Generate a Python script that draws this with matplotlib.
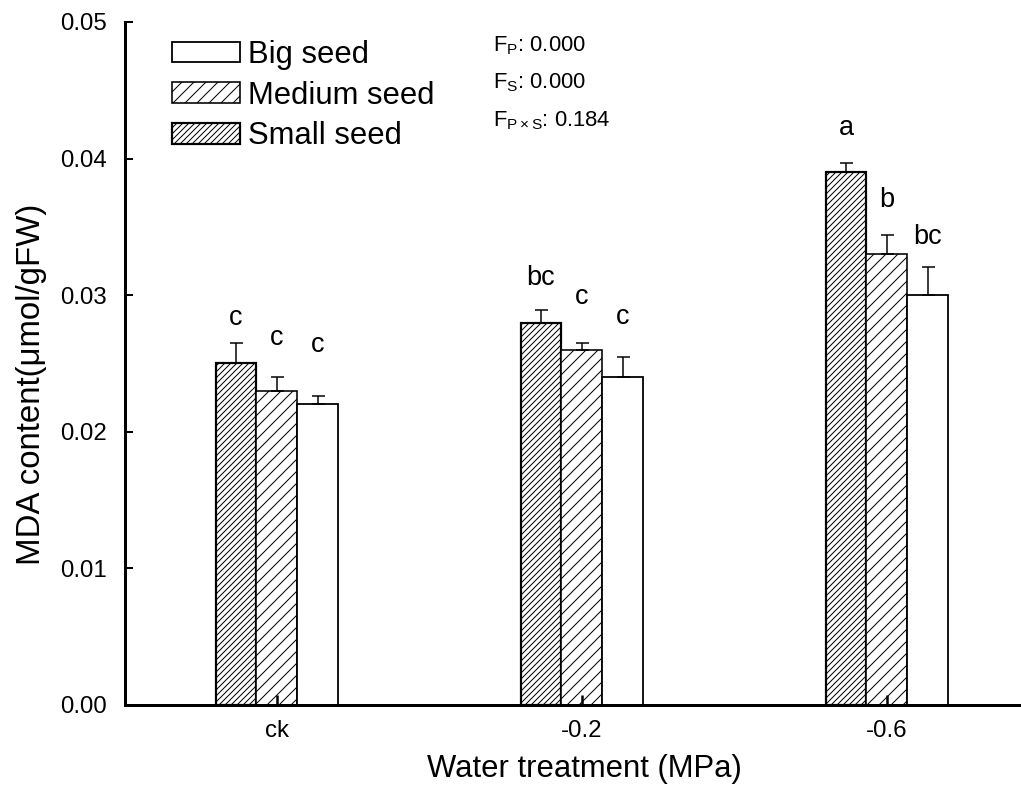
# MDA content under water treatments, by seed size
import numpy as np
import matplotlib.pyplot as plt

plt.rcParams['font.family'] = ['Liberation Sans', 'DejaVu Sans']
plt.rcParams['mathtext.fontset'] = 'custom'
plt.rcParams['mathtext.rm'] = 'Liberation Sans'
plt.rcParams['mathtext.it'] = 'Liberation Sans'
plt.rcParams['hatch.linewidth'] = 1.0

# data
treatments = ['ck', '-0.2', '-0.6']
seeds = ['Small seed', 'Medium seed', 'Big seed']
small_mean = [0.025, 0.028, 0.039]
small_err = [0.0015, 0.0009, 0.00066]
medium_mean = [0.023, 0.026, 0.033]
medium_err = [0.001, 0.0005, 0.0014]
big_mean = [0.022, 0.024, 0.030]
big_err = [0.0006, 0.0015, 0.0021]
small_letters = ['c', 'bc', 'a']
medium_letters = ['c', 'c', 'b']
big_letters = ['c', 'c', 'bc']
# heights (baseline) of the significance letters
small_letter_y = [0.0278, 0.03075, 0.04173]
medium_letter_y = [0.02635, 0.02936, 0.03646]
big_letter_y = [0.02584, 0.02789, 0.03375]

fig = plt.figure(figsize=(1021 / 72, 794 / 72), dpi=72)
ax = fig.add_axes([0.1224, 0.1121, 0.8776, 0.8602])

x = np.arange(len(treatments))
w = 0.134
groups = [
    (small_mean, small_err, small_letters, small_letter_y, '////', 2.2),
    (medium_mean, medium_err, medium_letters, medium_letter_y, '//', 1.6),
    (big_mean, big_err, big_letters, big_letter_y, '', 1.8),
]
handles = []
for i, (m, e, lett, ly, h, lw) in enumerate(groups):
    pos = x + (i - 1) * w
    b = ax.bar(pos, m, w, yerr=[np.zeros(len(e)), e], capsize=6.5,
               color='white', edgecolor='black', hatch=h, linewidth=lw,
               error_kw=dict(elinewidth=1.5, capthick=1.5, ecolor='black'),
               label=seeds[i])
    handles.append(b)
    for px, t, yy in zip(pos, lett, ly):
        ax.text(px, yy, t, ha='center', va='baseline', fontsize=27)

ax.set_xlim(-0.498, 2.44)
ax.set_ylim(0, 0.05)
ax.set_xticks(x)
ax.set_xticklabels(treatments)
ax.set_yticks(np.arange(0, 0.051, 0.01))
ax.set_yticklabels(['%.2f' % v for v in np.arange(0, 0.051, 0.01)])

for s in ['top', 'right']:
    ax.spines[s].set_visible(False)
for s in ['left', 'bottom']:
    ax.spines[s].set_linewidth(3)

ax.tick_params(axis='y', direction='in', length=8, width=2, pad=18, labelsize=24)
ax.tick_params(axis='x', direction='in', length=10, width=2.5, pad=15, labelsize=24)

ax.set_xlabel('Water treatment (MPa)', fontsize=31, labelpad=12)
ax.xaxis.label.set_x(0.513)
ax.set_ylabel('MDA content(\u03bcmol/gFW)', fontsize=33, labelpad=13)
ax.yaxis.label.set_y(0.47)

leg = ax.legend(handles[::-1], seeds[::-1], loc='upper left',
                bbox_to_anchor=(172 / 1021, 1 - 40 / 794), bbox_transform=fig.transFigure,
                frameon=False, fontsize=31, handlelength=2.19, handleheight=0.65,
                labelspacing=0.34, handletextpad=0.26, borderpad=0, borderaxespad=0)

# ANOVA p-values
fig.text(493 / 1021, 1 - 51 / 794, r'F$_\mathregular{P}$: 0.000', fontsize=22, va='baseline')
fig.text(493 / 1021, 1 - 88 / 794, r'F$_\mathregular{S}$: 0.000', fontsize=22, va='baseline')
fig.text(493 / 1021, 1 - 126 / 794, r'F$_\mathregular{P\times S}$: 0.184', fontsize=22, va='baseline')

fig.savefig('out.png', dpi=72)
